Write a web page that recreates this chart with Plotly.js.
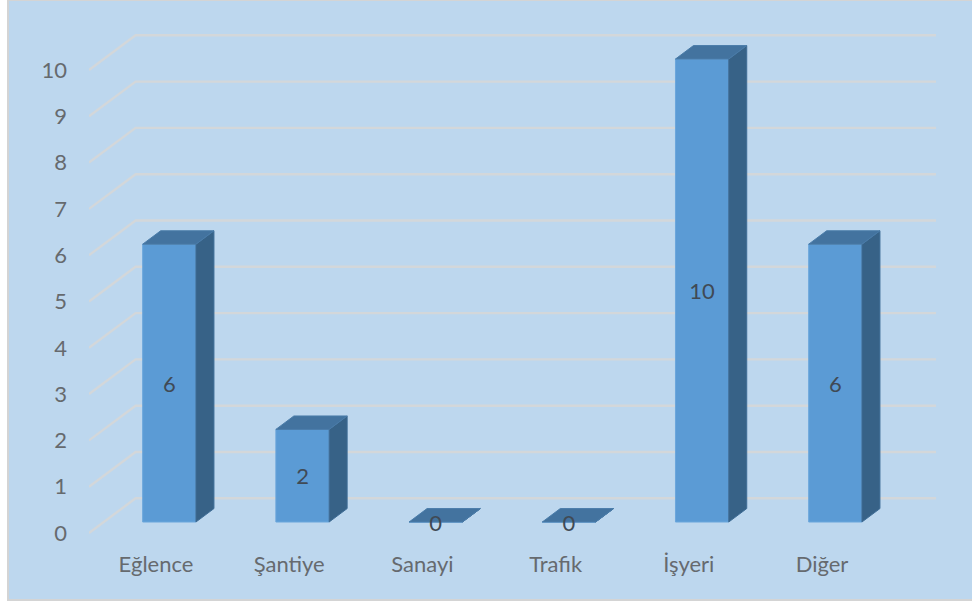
<!DOCTYPE html>
<html>
<head>
<meta charset="utf-8">
<script src="https://cdn.plot.ly/plotly-3.0.1.min.js"></script>
<style>html,body{margin:0;padding:0;background:#fff}#chart{width:972px;height:606px}</style>
</head>
<body>
<div id="chart"></div>
<script>
// Incident counts by category
const categories = ["Eğlence", "Şantiye", "Sanayi", "Trafik", "İşyeri", "Diğer"];
const counts = [6, 2, 0, 0, 10, 6];
const axisTicks = [0, 1, 2, 3, 4, 5, 6, 7, 8, 9, 10];

// Pixel frame of the plot area inside the 972x606 page
const W = 972, H = 606;
const M = {l: 89, r: 36, t: 20, b: 66};
const UNIT_X = 133.2, UNIT_Y = 46.3;   // pixels per category / per count
const xRange = [(M.l - 156) / UNIT_X, (W - M.r - 156) / UNIT_X];
const yRange = [(533 - (H - M.b)) / UNIT_Y, (533 - M.t) / UNIT_Y];

// Oblique projection: bars and back wall are shifted up and to the right
const BAR_SHIFT = 0.1, BAR_W = 0.4, BAR_LIFT = 0.2376;
const BAR_DX = 0.135, BAR_DY = 0.29;
const WALL_DX = 0.35, WALL_DY = 0.75;
const LABEL_DROP = 0.07;   // optical centring of the value labels

const topX = [], topY = [], sideX = [], sideY = [];
categories.forEach((_, i) => {
  const x0 = i + BAR_SHIFT - BAR_W / 2, x1 = x0 + BAR_W;
  const y0 = BAR_LIFT, y1 = BAR_LIFT + counts[i];
  topX.push(x0, x1, x1 + BAR_DX, x0 + BAR_DX, x0, null);
  topY.push(y1, y1, y1 + BAR_DY, y1 + BAR_DY, y1, null);
  sideX.push(x1, x1 + BAR_DX, x1 + BAR_DX, x1, x1, null);
  sideY.push(y0, y0 + BAR_DY, y1 + BAR_DY, y1, y0, null);
});

// Floor-to-wall grid lines, drawn under the bars
const gridShapes = axisTicks.map(v => ({
  type: "path", xref: "x", yref: "y", layer: "below",
  path: `M${xRange[0]},${v} L${xRange[0] + WALL_DX},${v + WALL_DY} L${xRange[1]},${v + WALL_DY}`,
  line: {color: "#d3d7da", width: 2.4}
}));

// Chart panel with its thin grey frame
const px = v => (v - M.l) / (W - M.l - M.r);
const py = v => 1 - (v - M.t) / (H - M.t - M.b);
const panel = {
  type: "rect", xref: "paper", yref: "paper", layer: "below",
  x0: px(8), x1: px(W + 4), y0: py(600), y1: py(0),
  fillcolor: "#bdd7ee", line: {color: "#d4d4d4", width: 2}
};

const font = {family: "Lato, 'Noto Sans', sans-serif", size: 22, color: "#666a6e"};

const traces = [
  {type: "bar", x: categories.map((_, i) => i + BAR_SHIFT), y: counts,
   base: counts.map(() => BAR_LIFT), width: BAR_W,
   marker: {color: "#5b9bd5", line: {color: "#6ba6db", width: 1}}},
  {type: "scatter", mode: "lines", x: sideX, y: sideY, fill: "toself",
   fillcolor: "#376287", line: {color: "#3f6d96", width: 1}},
  {type: "scatter", mode: "lines", x: topX, y: topY, fill: "toself",
   fillcolor: "#43739f", line: {color: "#4a7ca9", width: 1}},
  {type: "scatter", mode: "text", x: categories.map((_, i) => i + BAR_SHIFT),
   y: counts.map(v => BAR_LIFT + v / 2 - LABEL_DROP), text: counts.map(String),
   textposition: "middle center",
   textfont: {family: font.family, size: 22, color: "#404a55"}}
];

const layout = {
  width: W, height: H, margin: M, showlegend: false, hovermode: false,
  paper_bgcolor: "#ffffff", plot_bgcolor: "rgba(0,0,0,0)",
  font: font, shapes: [panel].concat(gridShapes),
  xaxis: {type: "linear", range: xRange, tickmode: "array",
          tickvals: categories.map((_, i) => i), ticktext: categories,
          showgrid: false, zeroline: false, showline: false, ticks: "",
          ticklabelstandoff: 9, tickfont: font, fixedrange: true},
  yaxis: {type: "linear", range: yRange, tickmode: "array",
          tickvals: axisTicks, ticktext: axisTicks.map(String),
          showgrid: false, zeroline: false, showline: false, ticks: "",
          ticklabelstandoff: 21, tickfont: font, fixedrange: true}
};

Plotly.newPlot("chart", traces, layout, {displayModeBar: false, staticPlot: true});
</script>
</body>
</html>
